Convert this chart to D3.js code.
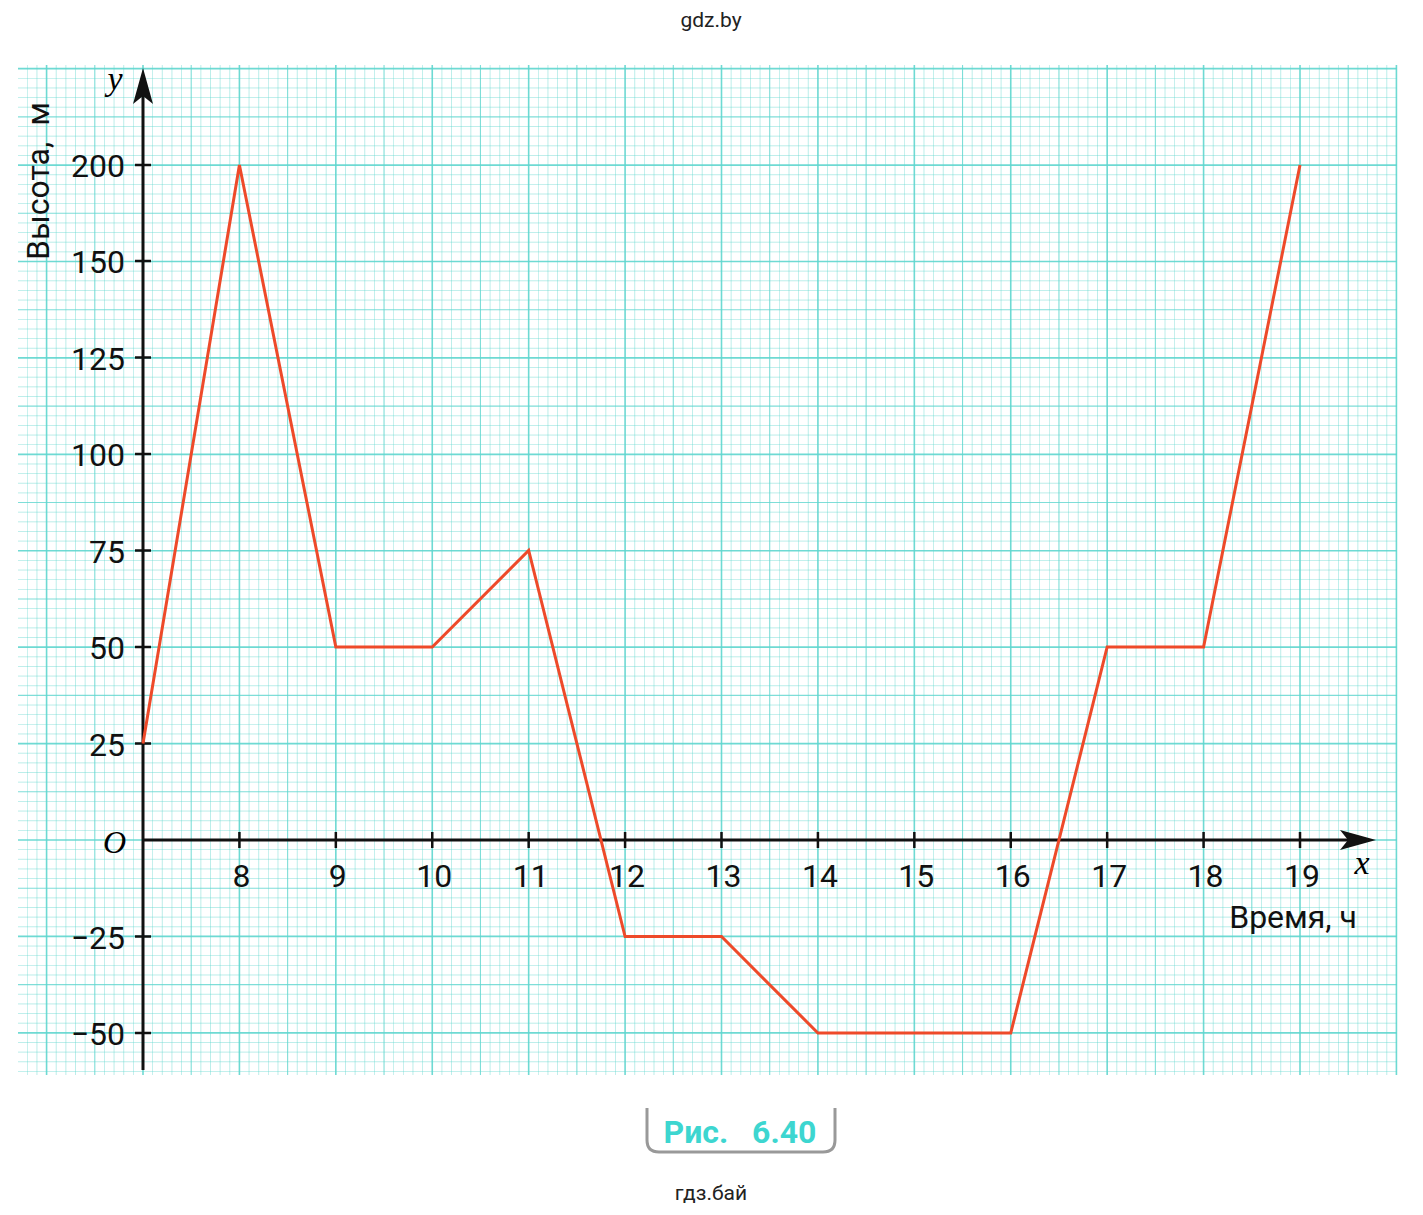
<!doctype html>
<html>
<body style="margin:0;background:#fff">
<div class="start"></div>
<script src="https://d3js.org/d3.v7.min.js"></script>
<script>
    let hours = [7, 8, 9, 10, 11, 12, 13, 14, 16, 17, 18, 19];
    let heights = [25, 200, 50, 50, 75, -25, -25, -50, -50, 50, 50, 200];
    let xTicks = [8, 9, 10, 11, 12, 13, 14, 15, 16, 17, 18, 19];
    let yTicks = [-50, -25, 25, 50, 75, 100, 125, 150, 200];

    let width = 1423, height = 1215;
    let x = d3.scaleLinear().domain([7, 19]).range([143, 1300]);
    // the axis is compressed between 150 and 200, as in the drawing
    let y = d3.scaleLinear().domain([-50, 150, 200]).range([1033, 261, 165]);
    let gx0 = 18, gx1 = 1397, gy0 = 65, gy1 = 1075;

    let svg = d3.select('.start').append('svg')
        .attr('width', width).attr('height', height)
        .style('font-family', 'Roboto, Arial, sans-serif');

    // grid: minor step = 0.1 hour, same pixel step vertically
    let step = (x(8) - x(7)) / 10;
    let grid = svg.append('g');
    let k0 = Math.ceil((gx0 - x(7)) / step), k1 = Math.floor((gx1 - x(7)) / step);
    for (let k = k0; k <= k1; k++) {
        let px = x(7) + k * step;
        let major = k % 10 === 0, mid = k % 5 === 0;
        grid.append('line').attr('x1', px).attr('x2', px).attr('y1', gy0).attr('y2', gy1)
            .attr('stroke', '#5fd6cf').attr('stroke-width', major ? 1.6 : mid ? 1.1 : 0.6)
            .attr('opacity', major ? 0.9 : mid ? 0.8 : 0.7);
    }
    k0 = Math.ceil((gy0 - y(0)) / step); k1 = Math.floor((gy1 - y(0)) / step);
    for (let k = k0; k <= k1; k++) {
        let py = y(0) + k * step;
        let major = k % 10 === 0, mid = k % 5 === 0;
        grid.append('line').attr('y1', py).attr('y2', py).attr('x1', gx0).attr('x2', gx1)
            .attr('stroke', '#5fd6cf').attr('stroke-width', major ? 1.6 : mid ? 1.1 : 0.6)
            .attr('opacity', major ? 0.9 : mid ? 0.8 : 0.7);
    }

    // axes
    svg.append('line').attr('x1', x(7)).attr('x2', 1360).attr('y1', y(0)).attr('y2', y(0))
        .attr('stroke', '#111').attr('stroke-width', 3);
    svg.append('line').attr('x1', x(7)).attr('x2', x(7)).attr('y1', 1070).attr('y2', 85)
        .attr('stroke', '#111').attr('stroke-width', 3);
    svg.append('path').attr('d', `M1376,${y(0)} L1340,${y(0) - 10} L1348,${y(0)} L1340,${y(0) + 10} Z`).attr('fill', '#111');
    svg.append('path').attr('d', `M${x(7)},68 L${x(7) - 10},104 L${x(7)},96 L${x(7) + 10},104 Z`).attr('fill', '#111');

    svg.selectAll('.xt').data(xTicks).join('line')
        .attr('x1', d => x(d)).attr('x2', d => x(d)).attr('y1', y(0) - 8).attr('y2', y(0) + 8)
        .attr('stroke', '#111').attr('stroke-width', 2.5);
    svg.selectAll('.xl').data(xTicks).join('text')
        .attr('x', d => x(d) + 2).attr('y', 887).attr('text-anchor', 'middle')
        .attr('font-size', 32).attr('fill', '#111').text(d => d);
    svg.selectAll('.yt').data(yTicks).join('line')
        .attr('x1', x(7) - 8).attr('x2', x(7) + 8).attr('y1', d => y(d)).attr('y2', d => y(d))
        .attr('stroke', '#111').attr('stroke-width', 2.5);
    svg.selectAll('.yl').data(yTicks).join('text')
        .attr('x', 125).attr('y', d => y(d) + 12).attr('text-anchor', 'end')
        .attr('font-size', 32).attr('fill', '#111').text(d => d < 0 ? '\u2212' + (-d) : d);

    svg.append('text').attr('x', 126).attr('y', 853).attr('text-anchor', 'end')
        .attr('font-size', 32).attr('font-style', 'italic').attr('font-family', 'Liberation Serif, serif').text('O');
    svg.append('text').attr('x', 115).attr('y', 90).attr('text-anchor', 'middle')
        .attr('font-size', 34).attr('font-style', 'italic').attr('font-family', 'Liberation Serif, serif').text('y');
    svg.append('text').attr('x', 1362).attr('y', 874).attr('text-anchor', 'middle')
        .attr('font-size', 34).attr('font-style', 'italic').attr('font-family', 'Liberation Serif, serif').text('x');
    svg.append('text').attr('x', 1357).attr('y', 928).attr('text-anchor', 'end')
        .attr('font-size', 32).attr('fill', '#111').text('Время, ч');
    svg.append('text').attr('transform', 'translate(49,260) rotate(-90)')
        .attr('font-size', 32).attr('fill', '#111').attr('xml:space', 'preserve').text('Высота,  м');

    // line
    svg.append('path').datum(hours.map((h, i) => [h, heights[i]]))
        .attr('d', d3.line().x(d => x(d[0])).y(d => y(d[1])))
        .attr('fill', 'none').attr('stroke', '#ee4a2a').attr('stroke-width', 3);

    // caption
    svg.append('text').attr('x', 711).attr('y', 27).attr('text-anchor', 'middle')
        .attr('font-size', 21).attr('fill', '#222').text('gdz.by');
    svg.append('text').attr('x', 711).attr('y', 1200).attr('text-anchor', 'middle')
        .attr('font-size', 21).attr('fill', '#222').text('гдз.бай');
    svg.append('path').attr('d', 'M647,1108 L647,1140 Q647,1152 659,1152 L823,1152 Q835,1152 835,1140 L835,1108')
        .attr('fill', 'none').attr('stroke', '#999').attr('stroke-width', 3);
    svg.append('text').attr('x', 740).attr('y', 1143).attr('text-anchor', 'middle')
        .attr('font-size', 32).attr('font-weight', 'bold').attr('fill', '#3dd6d0')
        .attr('xml:space', 'preserve').text('Рис.   6.40');
</script>
</body>
</html>
